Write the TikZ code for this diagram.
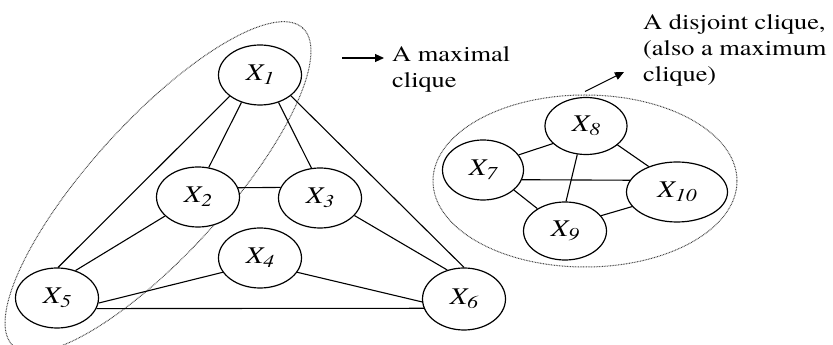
\documentclass[tikz,border=0pt]{standalone}
\usepackage{fontspec}
\setmainfont{texgyretermes}[Extension=.otf,UprightFont=*-regular,ItalicFont=*-italic,BoldFont=*-bold,BoldItalicFont=*-bolditalic]
\usetikzlibrary{shapes.geometric,arrows.meta}
\newcommand\xlab[1]{\scalebox{1.2}[1]{\fontsize{24}{24}\selectfont\itshape X\raisebox{-4pt}{\fontsize{18}{18}\selectfont #1}}}
\newcommand\wtext[1]{\scalebox{1.2}[1]{#1}}
\begin{document}
\begin{tikzpicture}[x=1pt,y=1pt,
  vert/.style={ellipse,draw,line width=1.2pt,minimum width=83pt,minimum height=60pt,inner sep=0pt,fill=white},
  edge/.style={line width=1.1pt},
  group/.style={ellipse,draw=black!75,line width=1pt,dash pattern=on 0.8pt off 0.8pt,inner sep=0pt},
  note/.style={align=left,anchor=north west,font=\fontsize{22}{26}\selectfont,inner sep=0pt},
  pointer/.style={line width=1.1pt,-{Triangle[length=9pt,width=8pt]}}]
\useasboundingbox (0,0) rectangle (833,345);
% groups
\node[group,rotate=47.7,minimum width=430pt,minimum height=134pt] (g1) at (158,158) {};
\node[group,minimum width=304pt,minimum height=172pt] (g2) at (585,164) {};
% vertices
\node[vert] (x1) at (260,270) {\xlab{1}};
\node[vert] (x2) at (198,148) {\xlab{2}};
\node[vert] (x3) at (320,147) {\xlab{3}};
\node[vert] (x4) at (260,87) {\xlab{4}};
\node[vert] (x5) at (57,47) {\xlab{5}};
\node[vert,minimum height=62pt] (x6) at (464,46) {\xlab{6}};
\node[vert,minimum width=81pt] (x7) at (483,175) {\xlab{7}};
\node[vert,minimum width=82pt,minimum height=57pt] (x8) at (586,219) {\xlab{8}};
\node[vert,minimum height=58pt] (x9) at (565,114) {\xlab{9}};
\node[vert,minimum width=101pt] (x10) at (677,153) {\xlab{10}};
% edges left
\draw[edge] (x1.-124) -- (x2.70);
\draw[edge] (x1.-56) -- (x3.106);
\draw[edge] (x1.-145) -- (x5.88);
\draw[edge] (x1.-34) -- (x6.90);
\draw[edge] (x2.13) -- (x3.165);
\draw[edge] (x2.210) -- (x5.56);
\draw[edge] (x3.-27) -- (x6.120);
\draw[edge] (x4.201) -- (x5.-7);
\draw[edge] (x4.-21) -- (x6.184);
\draw[edge] (x5.-15) -- (x6.193);
% edges right
\draw[edge] (x7.23) -- (x8.208);
\draw[edge] (x7.-14) -- (x10.166);
\draw[edge] (x7.-33) -- (x9.141);
\draw[edge] (x8.-107) -- (x9.88);
\draw[edge] (x8.-31) -- (x10.138);
\draw[edge] (x9.23) -- (x10.198);
% notes
\node[note] (n1) at (392,299) {\wtext{A maximal}\\\wtext{clique}};
\node[note] (n2) at (643,331) {\wtext{A disjoint clique,}\\\wtext{(also a maximum}\\\wtext{clique)}};
\coordinate (a1s) at (342,287);
\coordinate (a1e) at (384,287);
\coordinate (a2e) at (624,273);
\path (g2.north) ++(0,3) coordinate (a2s);
\draw[pointer] (a1s) -- (a1e);
\draw[pointer] (a2s) -- (a2e);
\end{tikzpicture}
\end{document}
